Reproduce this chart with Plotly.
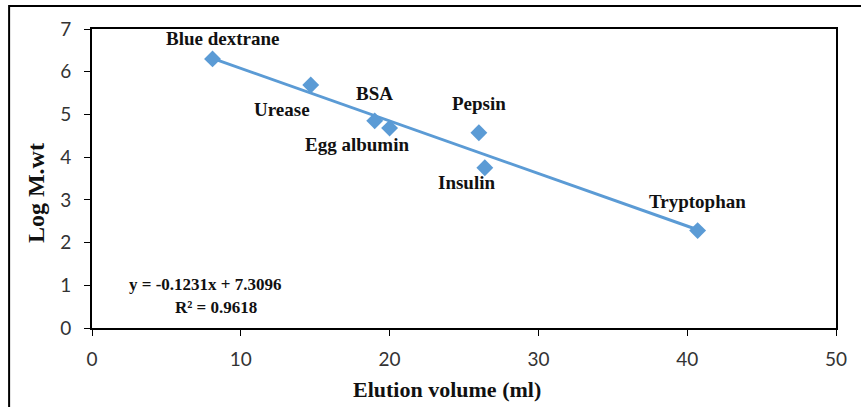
import plotly.graph_objects as go

names = ["Blue dextrane", "Urease", "BSA", "Egg albumin", "Pepsin", "Insulin", "Tryptophan"]
elution = [8.1, 14.7, 19.0, 20.0, 26.0, 26.4, 40.7]
logmw = [6.30, 5.69, 4.85, 4.68, 4.57, 3.75, 2.28]
slope, intercept = -0.1231, 7.3096
# label positions (data coords) for each point
label_x = [8.8, 12.75, 19.0, 17.8, 26.0, 25.2, 40.7]
label_y = [6.77, 5.11, 5.50, 4.29, 5.25, 3.40, 2.97]

blue = "#5B9BD5"
fig = go.Figure()
xs = [min(elution), max(elution)]
fig.add_trace(go.Scatter(x=xs, y=[slope * v + intercept for v in xs], mode="lines",
                         line=dict(color=blue, width=3), hoverinfo="skip"))
fig.add_trace(go.Scatter(x=elution, y=logmw, mode="markers",
                         marker=dict(symbol="diamond", size=13, color=blue),
                         text=names))

lab_font = dict(family="Liberation Serif", size=19, color="#111")
eq_font = dict(family="Liberation Serif", size=17, color="#111")
for n, lx, ly in zip(names, label_x, label_y):
    fig.add_annotation(x=lx, y=ly, text="<b>%s</b>" % n, showarrow=False, font=lab_font)
fig.add_annotation(x=7.6, y=1.01, text="<b>y = -0.1231x + 7.3096</b>", showarrow=False, font=eq_font)
fig.add_annotation(x=8.3, y=0.47, text="<b>R² = 0.9618</b>", showarrow=False, font=eq_font)

title_font = dict(family="Liberation Serif", size=22, color="#111")
fig.add_annotation(xref="paper", yref="paper", x=0.4765, y=-0.207, xanchor="center", yanchor="middle",
                   text="<b>Elution volume (ml)</b>", showarrow=False, font=title_font)
fig.add_annotation(xref="paper", yref="paper", x=-0.0752, y=0.4515, xanchor="center", yanchor="middle",
                   text="<b>Log M.wt</b>", showarrow=False, textangle=-90,
                   font=dict(family="Liberation Serif", size=24, color="#111"))

tick_font = dict(family="Lato", size=19, color="#333")
fig.update_layout(
    width=861, height=407,
    margin=dict(l=92, r=25, t=29, b=79),
    paper_bgcolor="white", plot_bgcolor="white",
    showlegend=False,
    xaxis=dict(range=[0, 50], tickvals=[0, 10, 20, 30, 40, 50], showgrid=False, zeroline=False,
               showline=True, linecolor="black", linewidth=2, mirror=True,
               ticks="outside", ticklen=6, tickcolor="black", tickwidth=1,
               ticklabelstandoff=7, tickfont=tick_font),
    yaxis=dict(range=[0, 7], tickvals=list(range(8)), showgrid=False, zeroline=False,
               showline=True, linecolor="black", linewidth=2, mirror=True,
               ticks="outside", ticklen=6, tickcolor="black", tickwidth=1,
               ticklabelstandoff=9, tickfont=tick_font),
)
fig.add_shape(type="rect", xref="paper", yref="paper",
              x0=-83/745, x1=1.2, y0=-0.5, y1=1 + 23/299,
              line=dict(color="black", width=2), layer="below")
fig.write_html("out.html")
